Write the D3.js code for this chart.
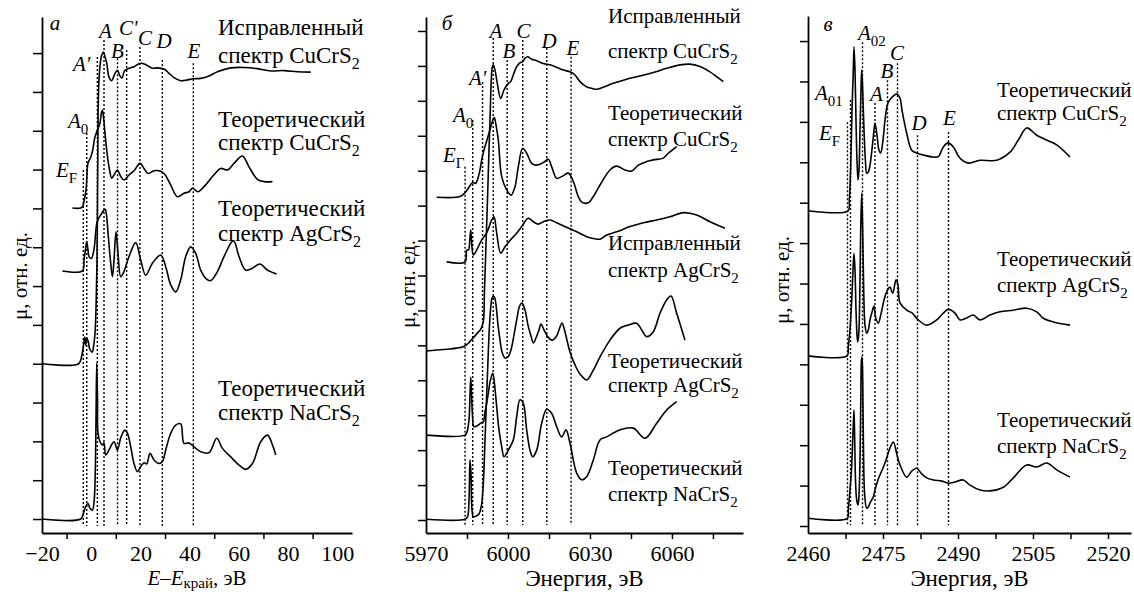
<!DOCTYPE html>
<html>
<head>
<meta charset="UTF-8">
<title>XANES CuCrS2 / AgCrS2 / NaCrS2</title>
<script src="https://d3js.org/d3.v7.min.js"></script>
<style>
  body { margin: 0; background: #fff; }
  .domain { stroke: #000; stroke-width: 1.8; }
  .tick line { stroke: #000; stroke-width: 1.5; }
  .spec { fill: none; stroke: #000; stroke-width: 1.6; stroke-linejoin: round; }
  .mark { stroke: #000; stroke-width: 1.4; stroke-dasharray: 2,2; }
</style>
</head>
<body>
<svg id="chart" width="1134" height="592"></svg>
<script>
// ---------- panel а : E - E_edge, eV ----------
const a_expCu = [[-20,4.00],[-5.1,4.00],[-3.86,4.20],[-3.05,4.51],[-2.64,4.69],[-2.24,4.48],[-1.83,4.66],[-1.22,4.58],[-0.61,4.38],[0.41,4.30],[1.02,4.48],[1.63,4.87],[2.03,5.64],[2.36,6.67],[2.56,8.22],[2.72,9.76],[2.89,10.79],[3.17,11.31],[3.66,11.72],[4.27,11.95],[4.96,12.03],[5.61,11.90],[6.30,11.74],[7.24,11.38],[8.33,11.29],[9.55,11.46],[10.65,11.56],[11.71,11.41],[12.52,11.36],[13.62,11.55],[15.37,11.61],[17.40,11.65],[20.12,11.74],[22.56,11.69],[24.88,11.61],[26.91,11.62],[29.59,11.59],[31.63,11.48],[33.66,11.37],[36.38,11.29],[39.11,11.31],[41.54,11.34],[44.51,11.35],[47.89,11.41],[51.30,11.52],[56.71,11.62],[62.11,11.63],[67.56,11.60],[72.97,11.54],[78.37,11.55],[83.82,11.52],[89.23,11.51]];
const a_theoCu = [[-7.64,8.01],[-4.27,8.01],[-3.46,8.06],[-2.64,8.27],[-2.03,8.52],[-1.63,8.99],[-1.30,9.17],[-0.81,9.24],[-0.20,9.32],[0.61,9.50],[1.42,9.81],[2.52,10.02],[3.58,10.20],[4.10,10.45],[4.55,10.53],[5.00,10.35],[5.60,9.95],[6.30,9.50],[7.24,9.07],[8.33,8.78],[9.27,8.86],[10.65,8.99],[11.99,8.82],[13.33,8.73],[15.37,8.86],[17.40,8.97],[19.84,9.16],[21.46,9.03],[23.09,8.90],[25.53,8.97],[28.25,8.96],[29.88,8.88],[32.32,8.60],[35.04,8.30],[37.72,8.39],[39.76,8.43],[41.14,8.52],[43.41,8.43],[45.85,8.56],[49.27,8.82],[52.64,9.03],[55.37,8.99],[58.05,9.16],[61.46,9.35],[64.15,9.07],[67.56,8.75],[70.24,8.69],[73.66,8.69]];
const a_theoAg = [[-11.71,6.39],[-3.58,6.39],[-2.93,6.67],[-2.36,6.93],[-1.83,7.14],[-1.30,6.93],[-0.89,6.76],[0.08,6.71],[1.14,6.95],[2.24,7.60],[3.05,7.75],[3.86,7.83],[4.88,7.93],[5.69,7.98],[6.22,7.83],[6.83,7.37],[7.93,6.59],[8.62,6.24],[9.27,6.67],[10.08,7.40],[10.89,6.85],[11.99,6.24],[13.09,6.34],[15.37,6.76],[18.09,7.12],[20.12,6.67],[22.15,6.28],[24.88,6.59],[28.25,6.80],[30.28,6.50],[32.32,6.03],[34.35,5.85],[36.38,6.16],[38.41,6.76],[40.45,7.01],[42.48,6.84],[44.51,6.41],[46.54,6.20],[48.58,6.14],[51.30,6.37],[53.98,6.76],[57.80,7.17],[60.08,6.76],[62.80,6.41],[65.53,6.46],[68.62,6.57],[71.63,6.41],[75.41,6.31]];
const a_theoNa = [[-20,0],[-4.27,0],[-3.17,0.15],[-2.24,0.32],[-1.30,0.40],[-0.49,0.28],[0.49,0.23],[1.22,0.49],[1.67,1.26],[1.95,2.55],[2.24,4.02],[2.56,3.06],[2.76,2.21],[3.58,1.99],[4.55,1.91],[5.20,1.96],[5.89,1.65],[7.24,1.78],[9.27,1.99],[10.65,1.78],[11.99,2.09],[13.62,2.29],[14.72,2.21],[16.06,1.86],[17.40,1.43],[18.78,1.22],[20.12,1.35],[21.46,1.45],[22.56,1.42],[23.90,1.69],[25.53,1.52],[27.56,1.43],[28.94,1.48],[30.28,1.78],[32.32,2.21],[34.35,2.42],[36.38,2.45],[37.72,1.95],[39.76,1.96],[41.79,1.86],[44.51,1.73],[47.89,1.71],[51.02,2.08],[53.33,1.82],[56.71,1.60],[60.08,1.39],[62.80,1.28],[65.53,1.43],[68.90,1.99],[71.63,2.16],[73.66,1.91],[75.00,1.65]];
const aMarkE   = [-3.2, -1.8, 2.5, 5.2, 10.7, 14.4, 19.8, 28.9, 41.5];
const aMarkTop = [8.99, 9.94, 11.90, 12.34, 11.87, 12.08, 12.16, 11.82, 11.74];
const aTickLabels = [-20, 0, 20, 40, 60, 80, 100];
const aTicks = [-10, 10, 30, 50, 70, 90];

// ---------- panel б : Cu K-edge region, eV ----------
const b_expCu = [[5970,4.84],[5977.57,4.89],[5981.23,4.92],[5983.65,4.96],[5984.64,5.01],[5985.48,5.06],[5986.72,5.17],[5987.67,5.25],[5988.77,5.35],[5990.01,5.46],[5990.97,5.68],[5991.40,6.58],[5991.95,7.87],[5992.50,9.16],[5993.05,10.59],[5993.53,11.74],[5993.89,12.60],[5994.26,12.97],[5994.62,13.03],[5995.25,12.88],[5996.09,12.50],[5997.33,12.07],[5998.54,12.31],[6000.11,12.50],[6000.99,12.55],[6001.94,12.74],[6003.19,12.98],[6004.39,13.09],[6005.38,13.12],[6006.22,13.22],[6007.21,13.26],[6008.68,13.19],[6010.51,13.15],[6012.92,13.07],[6015.37,13.03],[6017.82,12.96],[6020.24,12.88],[6022.69,12.83],[6024.52,12.74],[6026.35,12.55],[6028.80,12.40],[6030.63,12.36],[6032.46,12.33],[6034.87,12.39],[6038.53,12.50],[6043.44,12.62],[6048.30,12.71],[6053.17,12.81],[6058.07,12.93],[6062.94,13.03],[6066.60,13.05],[6070.26,12.98],[6073.92,12.83],[6076.37,12.69],[6078.78,12.55]];
const b_theoCu = [[5973.92,9.24],[5982.44,9.26],[5984.27,9.37],[5985.48,9.50],[5987.09,9.66],[5988.19,9.64],[5989.50,9.93],[5990.38,10.31],[5991.22,10.59],[5992.32,10.88],[5993.42,11.17],[5994.33,11.42],[5994.99,11.52],[5995.61,11.31],[5996.45,10.88],[5997.70,9.83],[5999.53,9.45],[6001.10,9.30],[6002.56,9.54],[6003.77,10.11],[6005.38,10.64],[6006.84,10.50],[6008.68,10.21],[6010.51,10.16],[6012.92,10.23],[6014.75,10.33],[6016.00,10.11],[6017.82,9.78],[6019.65,9.83],[6022.07,9.93],[6023.90,9.69],[6025.73,9.26],[6026.97,9.10],[6029.39,9.08],[6031.22,9.26],[6033.67,9.59],[6037.33,10.02],[6039.78,10.13],[6042.81,10.02],[6045.27,9.99],[6047.68,10.16],[6050.76,10.26],[6053.17,10.31],[6056.83,10.36],[6058.66,10.50],[6061.73,10.69]];
const b_expAg = [[5977.57,7.39],[5984.27,7.39],[5984.89,7.73],[5985.55,7.73],[5986.03,8.02],[5986.36,8.30],[5986.65,8.02],[5987.31,7.59],[5988.55,7.73],[5990.38,8.02],[5992.21,8.22],[5994.04,8.59],[5994.88,8.68],[5995.87,8.21],[5997.33,7.64],[5998.91,7.82],[6001.36,8.06],[6003.19,8.21],[6005.02,8.40],[6007.43,8.64],[6009.26,8.54],[6011.09,8.47],[6012.92,8.54],[6015.37,8.59],[6017.82,8.51],[6021.48,8.38],[6025.14,8.25],[6028.80,8.11],[6031.22,8.06],[6033.67,8.04],[6036.12,8.16],[6039.78,8.25],[6044.64,8.40],[6049.51,8.51],[6054.41,8.59],[6059.28,8.68],[6064.14,8.80],[6069.05,8.73],[6073.92,8.54],[6079.41,8.35]];
const b_theoAg = [[5970,0.02],[5984.27,0.02],[5985.18,0.09],[5985.73,0.57],[5986.10,1.72],[5986.47,1.35],[5986.83,0.29],[5987.38,0.09],[5988.30,0.11],[5989.39,0.17],[5990.31,0.43],[5991.04,1.15],[5991.59,2.29],[5992.14,3.44],[5992.69,4.58],[5993.24,5.58],[5993.79,6.16],[5994.33,6.38],[5994.99,6.39],[5995.61,6.16],[5996.35,5.58],[5997.08,5.15],[5997.81,4.81],[5998.91,4.64],[6000.01,4.67],[6001.10,4.87],[6002.20,5.30],[6003.30,5.78],[6004.28,6.13],[6005.13,6.21],[6006.22,6.01],[6007.32,5.58],[6008.42,5.27],[6009.26,5.07],[6010.25,5.21],[6011.35,5.44],[6012.08,5.61],[6013.18,5.44],[6014.64,5.24],[6016.10,5.15],[6017.57,5.24],[6018.67,5.44],[6019.76,5.64],[6020.68,5.44],[6021.59,5.15],[6022.69,4.81],[6024.52,4.44],[6026.35,4.18],[6028.80,4.01],[6031.22,4.29],[6033.67,4.67],[6037.33,5.15],[6040.99,5.49],[6043.91,5.58],[6047.10,5.63],[6048.92,5.44],[6050.76,5.25],[6053.17,5.39],[6055.62,5.92],[6058.07,6.30],[6059.65,6.41],[6061.73,5.92],[6064.77,5.15]];
const b_theoNa = [[5970,2.43],[5984.27,2.43],[5985.00,2.52],[5985.73,2.86],[5986.10,3.58],[5986.39,4.09],[5986.68,3.58],[5987.01,3.01],[5987.56,2.67],[5989.14,2.72],[5990.12,2.78],[5990.97,2.81],[5991.59,3.09],[5992.21,3.34],[5992.87,3.66],[5993.42,3.95],[5994.41,4.20],[5995.06,3.90],[5995.87,3.24],[5996.71,2.58],[5997.70,2.10],[5998.54,1.81],[5999.53,1.91],[6000.11,2.00],[6001.94,2.29],[6003.19,2.96],[6004.39,3.44],[6005.60,3.34],[6006.84,2.58],[6008.05,2.00],[6009.04,1.81],[6010.51,2.00],[6012.33,2.77],[6014.16,3.17],[6016.00,3.05],[6017.82,2.67],[6019.65,2.38],[6021.23,2.58],[6022.69,2.20],[6025.14,1.34],[6026.97,1.15],[6028.80,1.24],[6031.22,1.72],[6033.67,2.29],[6036.12,2.38],[6040.99,2.58],[6045.85,2.63],[6050.13,2.34],[6054.41,2.77],[6058.07,3.15],[6061.73,3.39]];
const bMarkE   = [5984.3, 5987.1, 5990.7, 5994.6, 5999.7, 6005.4, 6014.2, 6023.1];
const bMarkTop = [10.11, 11.45, 12.54, 13.80, 13.17, 13.74, 13.51, 13.26];
const bTickLabels = [5970, 6000, 6030, 6060];
const bTicks = [5985, 6000, 6015, 6030, 6045, 6060, 6075];

// ---------- panel в : S K-edge region, eV ----------
const c_theoCu = [[2460,7.80],[2468.0,7.80],[2468.26,8.07],[2468.54,8.88],[2468.8,10.29],[2469.06,11.28],[2469.2,11.86],[2469.4,11.28],[2469.6,10.04],[2469.8,9.05],[2470.0,8.56],[2470.2,8.81],[2470.4,9.80],[2470.6,10.79],[2470.74,11.28],[2470.9,10.91],[2471.2,9.80],[2471.5,9.01],[2471.74,8.73],[2472.06,8.76],[2472.4,8.93],[2473.0,9.55],[2473.4,9.97],[2473.8,9.67],[2474.2,9.30],[2474.54,9.23],[2475.0,9.55],[2475.4,10.04],[2476.0,10.47],[2476.8,10.61],[2477.74,10.69],[2478.4,10.59],[2478.8,10.29],[2479.74,9.72],[2480.74,9.30],[2481.74,9.23],[2483.06,9.18],[2485.06,9.13],[2486.06,9.14],[2487.06,9.38],[2488.0,9.48],[2489.06,9.38],[2490.4,9.10],[2492.06,8.98],[2494.4,9.05],[2497.74,9.05],[2500.4,9.25],[2502.06,9.55],[2503.74,9.85],[2505.74,9.67],[2507.74,9.55],[2509.74,9.43],[2512.4,9.13]];
const c_theoAg = [[2460,4.21],[2467.8,4.21],[2468.06,4.44],[2468.4,4.85],[2468.74,5.59],[2469.0,6.33],[2469.2,6.75],[2469.4,6.33],[2469.6,5.34],[2469.8,4.73],[2469.94,4.56],[2470.14,4.73],[2470.34,5.59],[2470.54,7.32],[2470.74,8.24],[2470.94,7.32],[2471.14,5.84],[2471.4,4.97],[2471.74,4.77],[2472.06,4.85],[2472.4,5.10],[2472.8,5.29],[2473.2,5.44],[2473.54,5.15],[2474.06,5.02],[2474.6,5.25],[2475.2,5.59],[2475.8,5.81],[2476.4,5.91],[2476.94,5.76],[2477.6,6.09],[2478.0,5.96],[2478.4,5.52],[2479.74,5.34],[2480.74,5.28],[2482.06,5.10],[2483.74,4.97],[2485.74,5.10],[2487.06,5.27],[2488.06,5.36],[2489.4,5.27],[2490.4,5.10],[2491.74,5.15],[2493.06,5.22],[2494.4,5.10],[2496.4,5.22],[2498.4,5.30],[2501.06,5.34],[2503.74,5.39],[2505.74,5.30],[2507.06,5.14],[2509.06,5.05],[2512.4,4.97]];
const c_theoNa = [[2460,0.19],[2467.86,0.19],[2468.06,0.40],[2468.4,0.89],[2468.7,1.39],[2468.94,2.13],[2469.1,2.62],[2469.2,2.87],[2469.34,2.13],[2469.5,1.14],[2469.74,0.64],[2470.0,0.52],[2470.2,0.77],[2470.4,1.63],[2470.56,3.12],[2470.7,4.11],[2470.8,4.18],[2470.94,3.61],[2471.1,1.88],[2471.34,0.77],[2471.74,0.44],[2472.06,0.47],[2472.4,0.57],[2473.06,0.72],[2473.4,0.89],[2474.0,1.14],[2475.4,1.56],[2476.4,1.93],[2477.06,2.08],[2477.8,1.76],[2478.4,1.51],[2479.74,1.21],[2480.74,1.36],[2481.74,1.43],[2482.74,1.29],[2483.74,1.19],[2485.06,1.14],[2486.74,1.11],[2488.06,1.06],[2489.4,1.09],[2491.06,1.14],[2492.4,1.01],[2494.4,0.89],[2496.4,0.87],[2499.06,0.96],[2501.06,1.19],[2503.74,1.51],[2505.74,1.46],[2507.74,1.56],[2509.74,1.39],[2512.4,1.21]];
const cMarkE   = [2467.9, 2468.5, 2470.9, 2473.4, 2475.9, 2477.9, 2481.9, 2488.1];
const cMarkTop = [9.99, 10.54, 11.97, 10.47, 11.03, 11.45, 9.67, 9.75];
const cTickLabels = [2460, 2475, 2490, 2505, 2520];
const cTicks = [2467.5, 2475, 2482.5, 2490, 2497.5, 2505, 2512.5, 2520];

const FONT = '"Liberation Serif"';
const svg = d3.select("#chart");
const AXIS_Y = 533;

function txt(sel) { return sel.style("font-family", FONT).attr("fill", "#000"); }

function drawPanel(p) {
  const g = svg.append("g");
  const x = d3.scaleLinear(p.xDomain, p.xRange);
  const y = d3.scaleLinear(p.yDomain, [AXIS_Y, p.yTop]);

  // x axis: ticks, then labels
  g.append("g").attr("transform", `translate(0,${AXIS_Y})`)
    .call(d3.axisBottom(x).tickValues(p.ticks).tickSize(6).tickSizeOuter(0).tickFormat(""));
  const lab = g.append("g").attr("transform", `translate(0,${AXIS_Y})`)
    .call(d3.axisBottom(x).tickValues(p.tickLabels).tickSize(0).tickPadding(12).tickFormat(d3.format("d")));
  lab.select(".domain").remove();
  txt(lab.selectAll("text")).attr("font-size", 22);

  // y axis (no labels)
  g.append("g").attr("transform", `translate(${p.xRange[0]},0)`)
    .call(d3.axisLeft(y).tickValues(p.yTicks).tickSize(p.yTickLen).tickSizeOuter(0).tickFormat(""));

  // dotted markers
  g.selectAll("line.mark").data(p.markE).join("line")
    .attr("class", "mark")
    .attr("x1", d => x(d)).attr("x2", d => x(d))
    .attr("y1", (d, i) => y(p.markTop[i])).attr("y2", y(p.markBottom));

  // spectra
  const line = d3.line().x(d => x(d[0])).y(d => y(d[1])).curve(d3.curveCatmullRom.alpha(0.5));
  g.selectAll("path.spec").data(p.series).join("path")
    .attr("class", "spec").attr("d", line);

  // panel letter
  txt(g.append("text")).attr("x", p.letter[1]).attr("y", p.letter[2])
    .attr("font-size", 21).attr("font-style", "italic").attr("text-anchor", "middle").text(p.letter[0]);

  // feature labels
  p.features.forEach(f => {
    const t = txt(g.append("text")).attr("x", f.x).attr("y", f.y)
      .attr("font-size", 21).attr("text-anchor", f.anchor || "middle");
    t.append("tspan").attr("font-style", "italic").text(f.t);
    if (f.sub) t.append("tspan").attr("font-size", 15).attr("dy", 6).text(f.sub);
  });

  // spectrum names
  p.names.forEach(n => {
    txt(g.append("text")).attr("x", p.nameX).attr("y", n.y1).attr("font-size", p.nameSize).text(n.first);
    const t = txt(g.append("text")).attr("x", p.nameX).attr("y", n.y2).attr("font-size", p.nameSize);
    t.append("tspan").text("спектр " + n.formula);
    t.append("tspan").attr("font-size", Math.round(p.nameSize * 0.7)).attr("dy", Math.round(p.nameSize * 0.28)).text("2");
  });

  // y title
  txt(g.append("text")).attr("transform", `translate(${p.yTitle[0]},${p.yTitle[1]}) rotate(-90)`)
    .attr("text-anchor", "middle").attr("font-size", 21).text("μ, отн. ед.");

  // x title
  const xt = txt(g.append("text")).attr("x", (p.xRange[0] + p.xRange[1]) / 2).attr("y", p.edgeTitle ? 585 : 586)
    .attr("text-anchor", "middle").attr("font-size", p.edgeTitle ? 21 : 23);
  if (p.edgeTitle) {
    xt.append("tspan").attr("font-style", "italic").text("E");
    xt.append("tspan").text("–");
    xt.append("tspan").attr("font-style", "italic").text("E");
    xt.append("tspan").attr("font-size", 15).attr("dy", 3).text("край");
    xt.append("tspan").attr("dy", -3).text(", эВ");
  } else {
    xt.text("Энергия, эВ");
  }
}

drawPanel({
  xDomain: [-20, 106], xRange: [42, 352], yDomain: [-0.36, 12.93], yTop: 17,
  yTicks: d3.range(0, 13), yTickLen: 9,
  ticks: aTicks, tickLabels: aTickLabels,
  series: [a_expCu, a_theoCu, a_theoAg, a_theoNa],
  markE: aMarkE, markTop: aMarkTop, markBottom: -0.18,
  letter: ["а", 55, 30],
  features: [
    {t: "A", x: 105.5, y: 38}, {t: "C'", x: 119, y: 35, anchor: "start"},
    {t: "C", x: 145, y: 45}, {t: "D", x: 164, y: 48}, {t: "B", x: 117.5, y: 58},
    {t: "E", x: 194, y: 58}, {t: "A'", x: 73, y: 71, anchor: "start"},
    {t: "A", sub: "0", x: 68, y: 128, anchor: "start"},
    {t: "E", sub: "F", x: 56, y: 177, anchor: "start"}
  ],
  nameX: 218, nameSize: 23,
  names: [
    {first: "Исправленный", formula: "CuCrS", y1: 35, y2: 63},
    {first: "Теоретический", formula: "CuCrS", y1: 127, y2: 150},
    {first: "Теоретический", formula: "AgCrS", y1: 216, y2: 241},
    {first: "Теоретический", formula: "NaCrS", y1: 396, y2: 420}
  ],
  yTitle: [27, 276], edgeTitle: true
});

drawPanel({
  xDomain: [5970, 6086], xRange: [426, 743], yDomain: [-0.372, 14.40], yTop: 17,
  yTicks: d3.range(0, 15), yTickLen: 8,
  ticks: bTicks, tickLabels: bTickLabels,
  series: [b_expCu, b_theoCu, b_expAg, b_theoAg, b_theoNa],
  markE: bMarkE, markTop: bMarkTop, markBottom: -0.14,
  letter: ["б", 447, 30],
  features: [
    {t: "A", x: 496, y: 38}, {t: "C", x: 523.5, y: 38}, {t: "B", x: 509, y: 58},
    {t: "D", x: 549, y: 48}, {t: "E", x: 573, y: 55},
    {t: "A'", x: 469, y: 85, anchor: "start"},
    {t: "A", sub: "0", x: 453, y: 122, anchor: "start"},
    {t: "E", sub: "Г", x: 443, y: 162, anchor: "start"}
  ],
  nameX: 608, nameSize: 21,
  names: [
    {first: "Исправленный", formula: "CuCrS", y1: 23, y2: 58},
    {first: "Теоретический", formula: "CuCrS", y1: 120, y2: 146},
    {first: "Исправленный", formula: "AgCrS", y1: 250, y2: 277},
    {first: "Теоретический", formula: "AgCrS", y1: 368, y2: 392},
    {first: "Теоретический", formula: "NaCrS", y1: 475, y2: 501}
  ],
  yTitle: [415, 284], edgeTitle: false
});

drawPanel({
  xDomain: [2460, 2524.6], xRange: [808, 1131], yDomain: [-0.173, 12.62], yTop: 16,
  yTicks: d3.range(0, 13), yTickLen: 8,
  ticks: cTicks, tickLabels: cTickLabels,
  series: [c_theoCu, c_theoAg, c_theoNa],
  markE: cMarkE, markTop: cMarkTop, markBottom: 0.02,
  letter: ["в", 828, 31],
  features: [
    {t: "A", sub: "02", x: 858, y: 40, anchor: "start"}, {t: "C", x: 897, y: 60},
    {t: "B", x: 887, y: 78}, {t: "A", sub: "01", x: 815, y: 100, anchor: "start"},
    {t: "A", x: 876.5, y: 101}, {t: "E", sub: "F", x: 819, y: 140, anchor: "start"},
    {t: "D", x: 919, y: 130}, {t: "E", x: 949.5, y: 125}
  ],
  nameX: 997, nameSize: 21,
  names: [
    {first: "Теоретический", formula: "CuCrS", y1: 97, y2: 120},
    {first: "Теоретический", formula: "AgCrS", y1: 266, y2: 292},
    {first: "Теоретический", formula: "NaCrS", y1: 427, y2: 453}
  ],
  yTitle: [789, 280], edgeTitle: false
});
</script>
</body>
</html>
